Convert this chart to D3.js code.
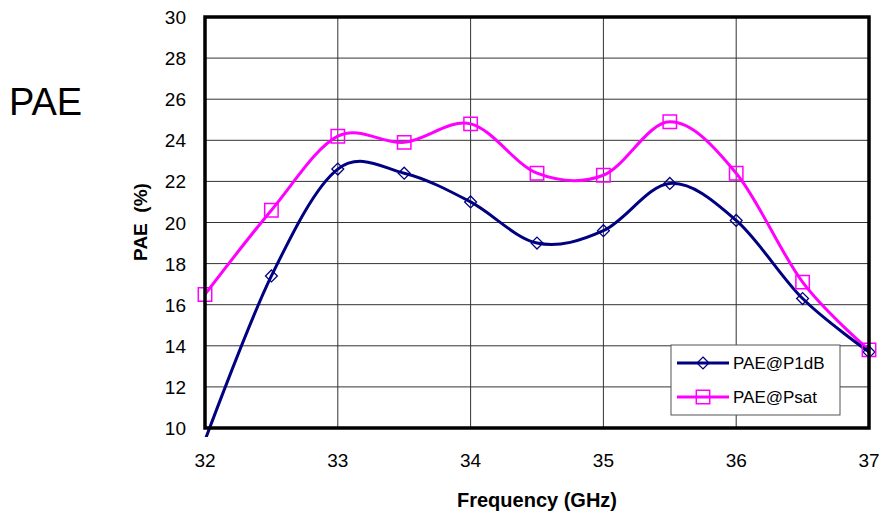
<!DOCTYPE html>
<html>
<head>
  <title>PAE vs Frequency</title>
  <script src="https://d3js.org/d3.v7.min.js"></script>
  <style>
    body { margin: 0; background: #fff; }
    text { font-family: "Liberation Sans", Arial, sans-serif; }
  </style>
</head>
<body>
<div id="chart"></div>
<script>
  // frequency points (GHz)
  const freqs = [32, 32.5, 33, 33.5, 34, 34.5, 35, 35.5, 36, 36.5, 37];
  const paeP1dB = [9.4, 17.4, 22.6, 22.4, 21.0, 19.0, 19.6, 21.9, 20.1, 16.3, 13.7];
  const paePsat = [16.5, 20.6, 24.2, 23.9, 24.8, 22.4, 22.3, 24.9, 22.4, 17.1, 13.8];
  const xTicks = [32, 33, 34, 35, 36, 37];
  const yTicks = [10, 12, 14, 16, 18, 20, 22, 24, 26, 28, 30];

  const width = 879;
  const height = 514;
  const plotL = 205, plotR = 869, plotT = 17, plotB = 428;

  const svg = d3.select("#chart")
          .append("svg")
          .attr("width", width)
          .attr("height", height);

  const x = d3.scaleLinear().domain([32, 37]).range([plotL, plotR]);
  const y = d3.scaleLinear().domain([10, 30]).range([plotB, plotT]);

  // gridlines
  svg.append("g")
          .selectAll("line")
          .data(yTicks)
          .join("line")
          .attr("x1", plotL).attr("x2", plotR)
          .attr("y1", d => y(d)).attr("y2", d => y(d))
          .attr("stroke", "#333").attr("stroke-width", 1);

  svg.append("g")
          .selectAll("line")
          .data(xTicks)
          .join("line")
          .attr("y1", plotT).attr("y2", plotB)
          .attr("x1", d => x(d)).attr("x2", d => x(d))
          .attr("stroke", "#333").attr("stroke-width", 1);

  // tick labels
  svg.append("g")
          .selectAll("text")
          .data(yTicks)
          .join("text")
          .attr("x", 186)
          .attr("y", d => y(d) + 7)
          .attr("text-anchor", "end")
          .attr("font-size", 19)
          .text(d => d);

  svg.append("g")
          .selectAll("text")
          .data(xTicks)
          .join("text")
          .attr("x", d => x(d))
          .attr("y", 467)
          .attr("text-anchor", "middle")
          .attr("font-size", 19)
          .text(d => d);

  // series
  svg.append("clipPath").attr("id", "clip")
          .append("rect")
          .attr("x", plotL - 4).attr("y", plotT)
          .attr("width", plotR - plotL + 12).attr("height", plotB - plotT + 9);

  const line = d3.line()
          .x((d, i) => x(freqs[i]))
          .y(d => y(d))
          .curve(d3.curveCardinal.tension(0));

  const plot = svg.append("g").attr("clip-path", "url(#clip)");

  plot.append("path")
          .datum(paePsat)
          .attr("d", line)
          .attr("fill", "none")
          .attr("stroke", "#ff00ff")
          .attr("stroke-width", 3);

  plot.append("path")
          .datum(paeP1dB)
          .attr("d", line)
          .attr("fill", "none")
          .attr("stroke", "#000080")
          .attr("stroke-width", 3);

  const diamond = d3.symbol().type(d3.symbolDiamond2).size(90);
  const square = d3.symbol().type(d3.symbolSquare).size(180);

  svg.append("g")
          .selectAll("path")
          .data(paeP1dB.map((v, i) => [freqs[i], v]).filter(d => d[1] >= 10))
          .join("path")
          .attr("d", diamond)
          .attr("transform", d => `translate(${x(d[0])},${y(d[1])})`)
          .attr("fill", "none")
          .attr("stroke", "#000080")
          .attr("stroke-width", 1.3);

  svg.append("g")
          .selectAll("path")
          .data(paePsat.map((v, i) => [freqs[i], v]))
          .join("path")
          .attr("d", square)
          .attr("transform", d => `translate(${x(d[0])},${y(d[1])})`)
          .attr("fill", "none")
          .attr("stroke", "#ff00ff")
          .attr("stroke-width", 1.5);

  // frame
  svg.append("rect")
          .attr("x", plotL).attr("y", plotT)
          .attr("width", plotR - plotL).attr("height", plotB - plotT)
          .attr("fill", "none")
          .attr("stroke", "#000")
          .attr("stroke-width", 3.5);

  // legend
  const legend = svg.append("g");
  legend.append("rect")
          .attr("x", 671).attr("y", 345)
          .attr("width", 169).attr("height", 70)
          .attr("fill", "#fff")
          .attr("stroke", "#555")
          .attr("stroke-width", 1);

  const items = [
    {name: "PAE@P1dB", color: "#000080", sym: diamond, sw: 1.3},
    {name: "PAE@Psat", color: "#ff00ff", sym: square, sw: 1.5}
  ];
  items.forEach((it, i) => {
    const cy = 363 + i * 34;
    legend.append("line")
            .attr("x1", 677).attr("x2", 729)
            .attr("y1", cy).attr("y2", cy)
            .attr("stroke", it.color).attr("stroke-width", 3);
    legend.append("path")
            .attr("d", it.sym)
            .attr("transform", `translate(703,${cy})`)
            .attr("fill", "none")
            .attr("stroke", it.color)
            .attr("stroke-width", it.sw);
    legend.append("text")
            .attr("x", 733).attr("y", cy + 6)
            .attr("font-size", 17)
            .text(it.name);
  });

  // axis titles
  svg.append("text")
          .attr("x", 537).attr("y", 507)
          .attr("text-anchor", "middle")
          .attr("font-size", 20)
          .attr("font-weight", "bold")
          .text("Frequency (GHz)");

  svg.append("text")
          .attr("transform", "translate(147,222) rotate(-90)")
          .attr("text-anchor", "middle")
          .attr("font-size", 19)
          .attr("font-weight", "bold")
          .style("white-space", "pre")
          .text("PAE  (%)");

  svg.append("text")
          .attr("x", 9).attr("y", 115)
          .attr("font-size", 38)
          .text("PAE");
</script>
</body>
</html>
